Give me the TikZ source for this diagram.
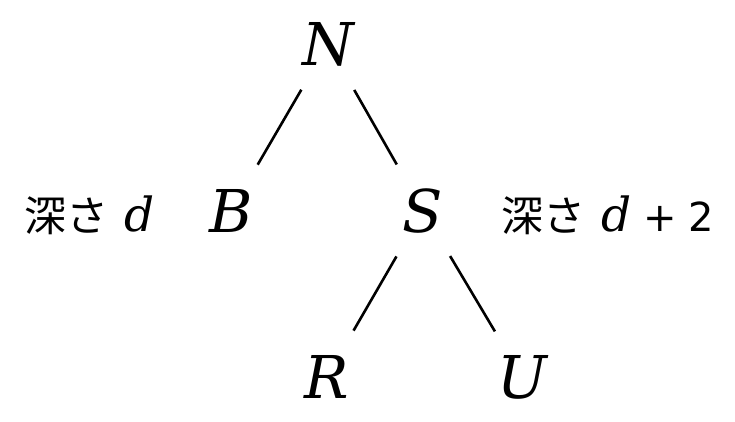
\documentclass[tikz,border=0pt]{standalone}
\usepackage{fontspec}
\newfontfamily\cjk{Noto Sans CJK JP}
\newfontfamily\serifit{DejaVu Serif}
\newfontfamily\sansup{DejaVu Sans}
\begin{document}
\begin{tikzpicture}[x=1pt,y=-1pt,
  lbl/.style={inner sep=0pt, anchor=base, font=\serifit\fontsize{59}{66}\selectfont\itshape},
  side/.style={inner sep=0pt, anchor=base west, font=\cjk\fontsize{42}{48}\selectfont},
  edge/.style={line width=2.6pt, shorten <=53pt, shorten >=53pt}]
\useasboundingbox (0,0) rectangle (735,421);
\node[lbl] (N) at (328,65) {N};
\node[lbl] (B) at (231,232) {B};
\node[lbl] (S) at (423,232) {S};
\node[lbl] (R) at (327,398) {R};
\node[lbl] (U) at (522,398) {U};
\node[side] (L1) at (24,231) {深さ\hspace{16pt}{\serifit\itshape\fontsize{47}{54}\selectfont d}};
\node[side] (L2) at (501,231) {深さ\hspace{16pt}{\serifit\itshape\fontsize{47}{54}\selectfont d}\hspace{12pt}{\sansup\fontsize{40}{46}\selectfont +\hspace{12pt}2}};
\draw[edge] (N.center) -- (B.center);
\draw[edge] (N.center) -- (S.center);
\draw[edge] (S.center) -- (R.center);
\draw[edge] (S.center) -- (U.center);
\end{tikzpicture}
\end{document}
